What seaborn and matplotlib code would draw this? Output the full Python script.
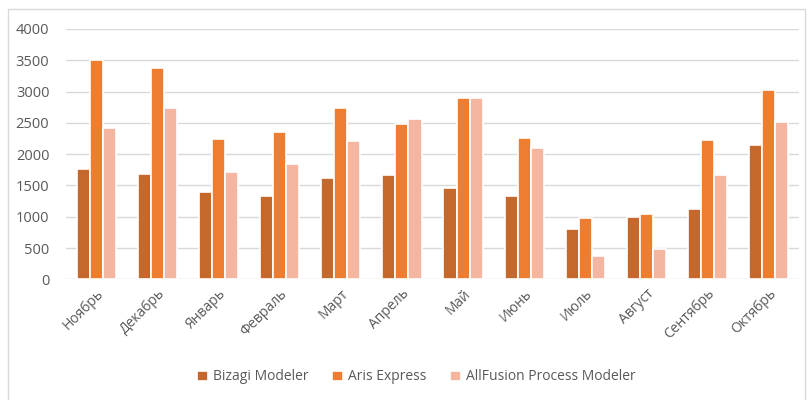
import matplotlib
matplotlib.use("Agg")
import matplotlib.pyplot as plt
import seaborn as sns
import pandas as pd
from matplotlib.patches import Rectangle

months = ["Ноябрь", "Декабрь", "Январь", "Февраль", "Март", "Апрель", "Май",
          "Июнь", "Июль", "Август", "Сентябрь", "Октябрь"]
series_names = ["Bizagi Modeler", "Aris Express", "AllFusion Process Modeler"]
bizagi = [1760, 1690, 1400, 1335, 1625, 1665, 1460, 1325, 805, 1000, 1130, 2145]
aris = [3505, 3375, 2235, 2350, 2735, 2485, 2905, 2255, 975, 1045, 2230, 3030]
allfusion = [2425, 2730, 1710, 1845, 2210, 2560, 2900, 2105, 380, 480, 1670, 2515]
colors = ["#C4682B", "#ED7D31", "#F4B6A0"]
yticks = [0, 500, 1000, 1500, 2000, 2500, 3000, 3500, 4000]

rows = []
for name, vals in zip(series_names, [bizagi, aris, allfusion]):
    for m, v in zip(months, vals):
        rows.append({"month": m, "series": name, "value": v})
df = pd.DataFrame(rows)

sns.set_theme(style="white")
plt.rcParams["font.family"] = ["Open Sans", "DejaVu Sans"]

fig = plt.figure(figsize=(8.09, 4.0), dpi=100)
ax = fig.add_axes([66 / 809, 1 - 279.3 / 400, (799 - 66) / 809, 250.3 / 400])

sns.barplot(data=df, x="month", y="value", hue="series", order=months,
            hue_order=series_names, palette=colors, saturation=1,
            width=0.64, edgecolor="white", linewidth=1.2, ax=ax, zorder=3)

ax.set_ylim(0, 4000)
ax.set_yticks(yticks)
ax.set_yticklabels([str(t) for t in yticks])
ax.yaxis.grid(True, color="#D9D9D9", linewidth=1.0, zorder=0)
ax.set_axisbelow(True)
for s in ax.spines.values():
    s.set_visible(False)
ax.set_xlabel("")
ax.set_ylabel("")
ax.tick_params(axis="y", length=0, pad=12, labelsize=10.5, labelcolor="#595959")
ax.tick_params(axis="x", length=0, pad=5, labelsize=10, labelcolor="#595959")
for lbl in ax.get_xticklabels():
    lbl.set_rotation(45)
    lbl.set_ha("right")
    lbl.set_rotation_mode("anchor")

handles, labels = ax.get_legend_handles_labels()
ax.legend_.remove()
fig.legend(handles, labels, loc="center", bbox_to_anchor=(0.515, 0.0575), ncol=3,
           frameon=False, fontsize=10, labelcolor="#595959",
           handlelength=0.75, handleheight=0.75, handletextpad=0.4, columnspacing=1.7)

fig.patches.append(Rectangle((8 / 809, -0.05), 797 / 809, 1.05 - 9 / 400,
                             transform=fig.transFigure, fill=False,
                             edgecolor="#D9D9D9", linewidth=1.0))

fig.savefig("out.png", dpi=100)
